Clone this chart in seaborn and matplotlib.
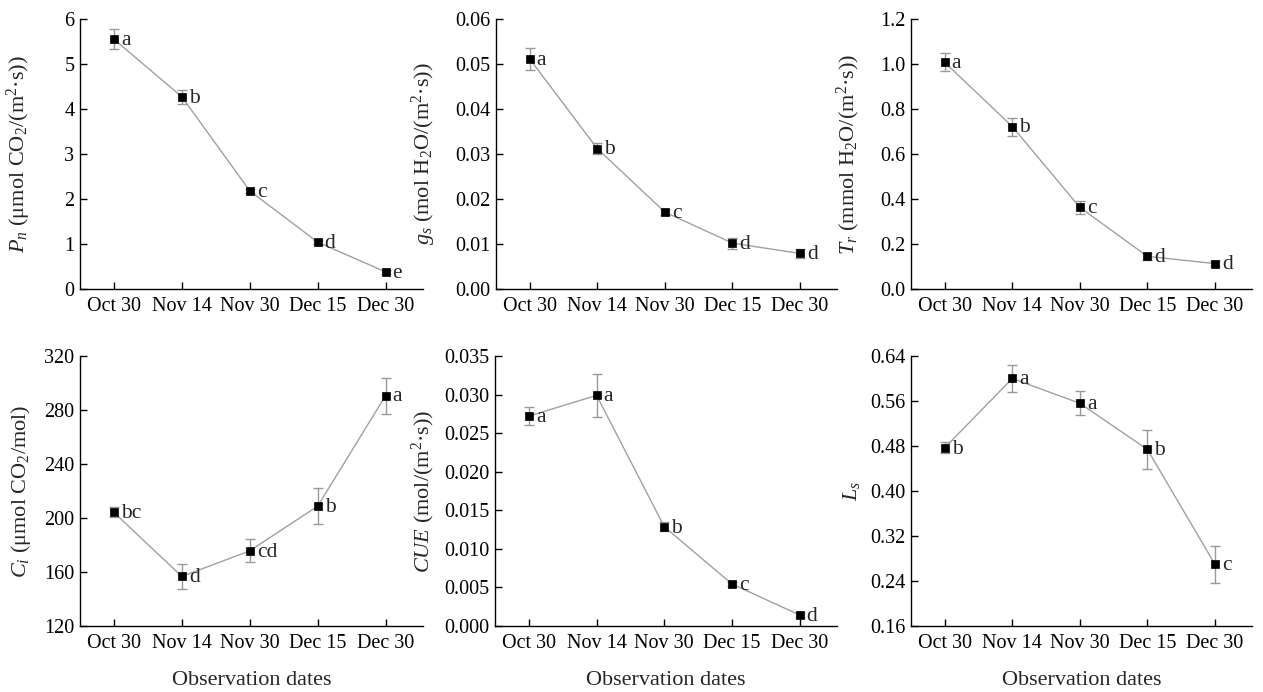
import numpy as np
import pandas as pd
import matplotlib
matplotlib.use("Agg")
import matplotlib.pyplot as plt
from matplotlib.ticker import FormatStrFormatter
import seaborn as sns

DATES = ["Oct 30", "Nov 14", "Nov 30", "Dec 15", "Dec 30"]

PN_VALS = [5.55, 4.27, 2.18, 1.04, 0.38]
PN_ERR = [0.22, 0.16, 0.05, 0.05, 0.04]
PN_LETTERS = ["a", "b", "c", "d", "e"]

GS_VALS = [0.0511, 0.0312, 0.0171, 0.0102, 0.0079]
GS_ERR = [0.0024, 0.0013, 0.0006, 0.0012, 0.0010]
GS_LETTERS = ["a", "b", "c", "d", "d"]

TR_VALS = [1.007, 0.722, 0.363, 0.145, 0.113]
TR_ERR = [0.040, 0.040, 0.029, 0.015, 0.010]
TR_LETTERS = ["a", "b", "c", "d", "d"]

CI_VALS = [204.1, 156.7, 175.7, 208.8, 290.7]
CI_ERR = [3.7, 9.2, 8.5, 13.3, 13.3]
CI_LETTERS = ["bc", "d", "cd", "b", "a"]

CUE_VALS = [0.0272, 0.0299, 0.01286, 0.00544, 0.00142]
CUE_ERR = [0.0012, 0.0028, 0.0006, 0.0003, 0.0003]
CUE_LETTERS = ["a", "a", "b", "c", "d"]

LS_VALS = [0.477, 0.600, 0.556, 0.474, 0.270]
LS_ERR = [0.0095, 0.024, 0.021, 0.034, 0.033]
LS_LETTERS = ["b", "a", "a", "b", "c"]

PANELS = [
    (PN_VALS, PN_ERR, PN_LETTERS, "$P_n$ (μmol CO$_2$/(m$^2$·s))", np.arange(0, 6.01, 1), "%d"),
    (GS_VALS, GS_ERR, GS_LETTERS, "$g_s$ (mol H$_2$O/(m$^2$·s))", np.arange(0, 0.0601, 0.01), "%.2f"),
    (TR_VALS, TR_ERR, TR_LETTERS, "$T_r$ (mmol H$_2$O/(m$^2$·s))", np.arange(0, 1.201, 0.2), "%.1f"),
    (CI_VALS, CI_ERR, CI_LETTERS, "$C_i$ (μmol CO$_2$/mol)", np.arange(120, 321, 40), "%d"),
    (CUE_VALS, CUE_ERR, CUE_LETTERS, "$CUE$ (mol/(m$^2$·s))", np.arange(0, 0.03501, 0.005), "%.3f"),
    (LS_VALS, LS_ERR, LS_LETTERS, "$L_s$", np.arange(0.16, 0.6401, 0.08), "%.2f"),
]

# axes boxes in pixels (left, top, right, bottom)
BOXES = [
    (80, 19, 423, 289), (496, 19, 837, 289), (911, 19, 1252, 289),
    (80, 356, 423, 626), (495, 356, 837, 626), (911, 356, 1252, 626),
]
# right edge of the rotated y label, in axes fraction
LABEL_X = [-0.137, -0.17, -0.144, -0.137, -0.17, -0.144]

sns.set_style("ticks")
plt.rcParams["font.family"] = ["Liberation Serif", "DejaVu Serif"]
plt.rcParams["mathtext.fontset"] = "custom"
plt.rcParams["mathtext.rm"] = "Liberation Serif"
plt.rcParams["mathtext.it"] = "Liberation Serif:italic"

W, H = 1263, 692
fig = plt.figure(figsize=(W / 100, H / 100), dpi=100)

for i, (vals, errs, letters, ylabel, yticks, fmt) in enumerate(PANELS):
    l, t, r, b = BOXES[i]
    ax = fig.add_axes([l / W, 1 - b / H, (r - l) / W, (b - t) / H])
    df = pd.DataFrame({"date": DATES, "value": vals})

    sns.lineplot(data=df, x="date", y="value", ax=ax, color="#a0a0a0",
                 linewidth=1, sort=False, zorder=1)
    ax.errorbar(DATES, vals, yerr=errs, fmt="none", ecolor="#999999",
                elinewidth=1, capsize=3.5, capthick=1, zorder=2)
    sns.scatterplot(data=df, x="date", y="value", ax=ax, marker="s", s=40,
                    color="black", edgecolor="black", linewidth=0.5, zorder=3)

    for d, v, letter in zip(DATES, vals, letters):
        ax.annotate(letter, (d, v), xytext=(5, -1), textcoords="offset points",
                    ha="left", va="center", fontsize=15.5)

    ax.set_xlim(-0.5, 4.55)
    ax.set_ylim(yticks[0], yticks[-1])
    ax.set_yticks(yticks)
    ax.yaxis.set_major_formatter(FormatStrFormatter(fmt))
    ax.tick_params(direction="in", length=5, width=1, colors="black")
    ax.tick_params(axis="y", labelsize=14.5, pad=4)
    ax.tick_params(axis="x", labelsize=14.5, pad=6)
    for s in ["top", "right"]:
        ax.spines[s].set_visible(False)
    for s in ["left", "bottom"]:
        ax.spines[s].set_linewidth(1)
        ax.spines[s].set_color("black")

    ax.set_ylabel(ylabel, fontsize=16)
    ax.yaxis.set_label_coords(LABEL_X[i], 0.5)
    if i >= 3:
        ax.set_xlabel("Observation dates", fontsize=16, labelpad=13)
    else:
        ax.set_xlabel("")

fig.savefig("out.png", dpi=100)
